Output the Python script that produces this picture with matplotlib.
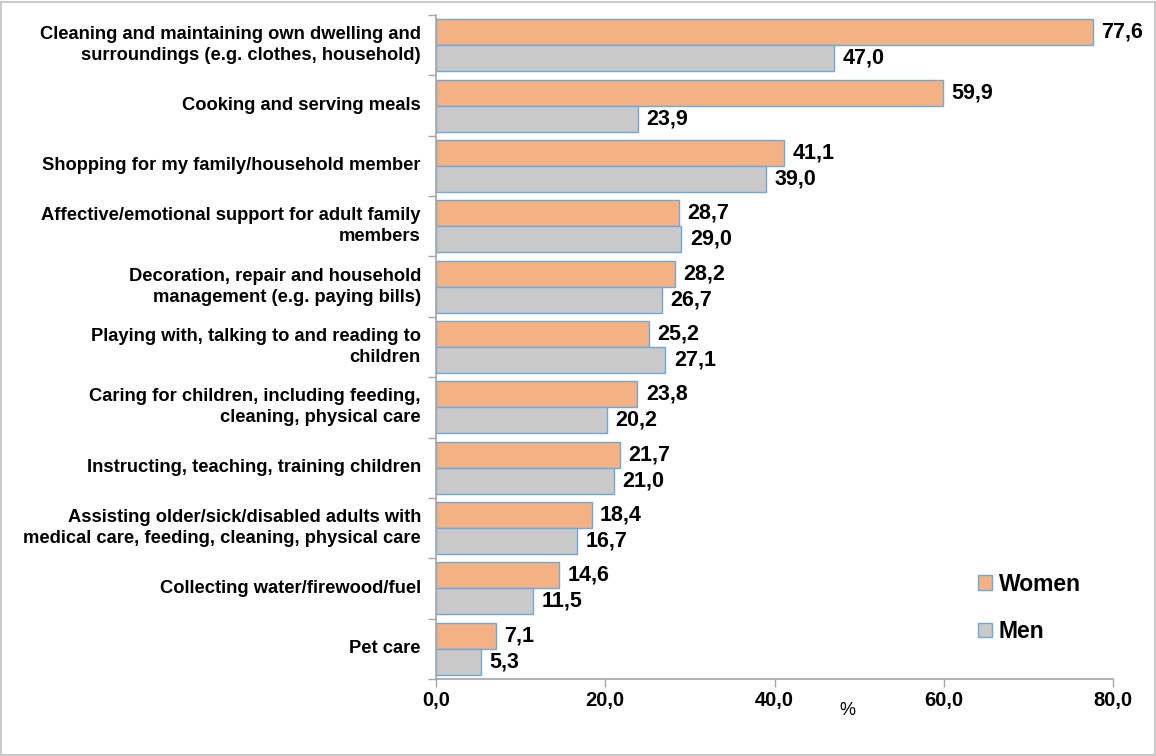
import matplotlib.pyplot as plt
import numpy as np
from matplotlib.patches import Rectangle

plt.rcParams["font.family"] = ["Liberation Sans", "DejaVu Sans"]

activities = [
    "Cleaning and maintaining own dwelling and\nsurroundings (e.g. clothes, household)",
    "Cooking and serving meals",
    "Shopping for my family/household member",
    "Affective/emotional support for adult family\nmembers",
    "Decoration, repair and household\nmanagement (e.g. paying bills)",
    "Playing with, talking to and reading to\nchildren",
    "Caring for children, including feeding,\ncleaning, physical care",
    "Instructing, teaching, training children",
    "Assisting older/sick/disabled adults with\nmedical care, feeding, cleaning, physical care",
    "Collecting water/firewood/fuel",
    "Pet care",
]
women = [77.6, 59.9, 41.1, 28.7, 28.2, 25.2, 23.8, 21.7, 18.4, 14.6, 7.1]
men = [47.0, 23.9, 39.0, 29.0, 26.7, 27.1, 20.2, 21.0, 16.7, 11.5, 5.3]
x_ticks = [0, 20, 40, 60, 80]

women_color = "#F4B183"
men_color = "#C9C9C9"
edge_color = "#6FA8DC"
axis_color = "#A6A6A6"


def comma(value):
    return f"{value:.1f}".replace(".", ",")


fig = plt.figure(figsize=(11.56, 7.56), dpi=100)
fig.patches.append(Rectangle((0.001, 0.001), 0.998, 0.997, transform=fig.transFigure,
                             fill=False, edgecolor="#BFBFBF", linewidth=1.2))
ax = fig.add_axes([0.377, 0.102, 0.586, 0.878])

n = len(activities)
centers = np.arange(n)
bar_h = 0.43
ax.barh(centers - bar_h / 2, women, height=bar_h, color=women_color,
        edgecolor=edge_color, linewidth=1.0, label="Women")
ax.barh(centers + bar_h / 2, men, height=bar_h, color=men_color,
        edgecolor=edge_color, linewidth=1.0, label="Men")

for i in range(n):
    ax.text(women[i] + 1.0, centers[i] - bar_h / 2, comma(women[i]), va="center",
            ha="left", fontsize=15.5, fontweight="bold")
    ax.text(men[i] + 1.0, centers[i] + bar_h / 2, comma(men[i]), va="center",
            ha="left", fontsize=15.5, fontweight="bold")

ax.set_ylim(n - 0.5, -0.5)
ax.set_xlim(0, 80)

# category labels centred on groups, tick marks on group boundaries
ax.set_yticks(np.arange(-0.5, n, 1.0))
ax.set_yticklabels([])
ax.tick_params(axis="y", length=6, color=axis_color, width=1)
for i, label in enumerate(activities):
    ax.text(-1.75, centers[i], label, ha="right", va="center", fontsize=13.2,
            fontweight="bold", linespacing=1.3)

ax.set_xticks(x_ticks)
ax.set_xticklabels([comma(v) for v in x_ticks], fontsize=14.5, fontweight="bold")
ax.tick_params(axis="x", length=6, color=axis_color, width=1, pad=3)

for side in ("top", "right"):
    ax.spines[side].set_visible(False)
for side in ("left", "bottom"):
    ax.spines[side].set_color(axis_color)
    ax.spines[side].set_linewidth(1.2)

ax.text(48.6, n - 0.12, "%", ha="center", va="top", fontsize=13)

ax.legend(loc="center left", bbox_to_anchor=(0.77, 0.107), frameon=False,
          prop={"weight": "bold", "size": 16.5}, handlelength=0.6,
          handleheight=0.6, handletextpad=0.3, labelspacing=1.05)

fig.savefig("out.png", dpi=100)
